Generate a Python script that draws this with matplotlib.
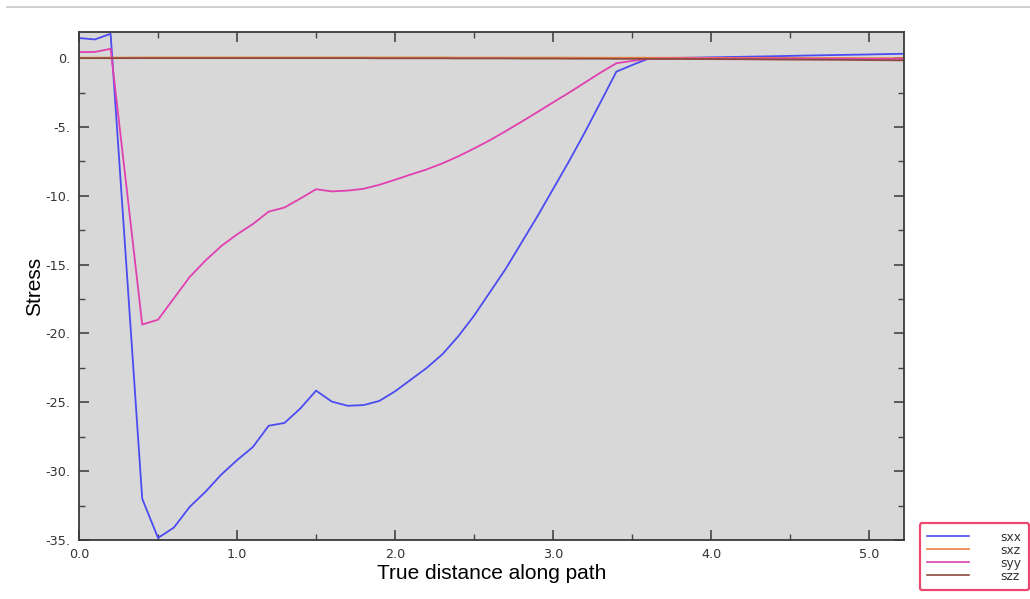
import matplotlib
matplotlib.use("Agg")
import matplotlib.pyplot as plt
from matplotlib.lines import Line2D
from matplotlib.ticker import MultipleLocator, FuncFormatter
import numpy as np

distance = [0.0, 0.1, 0.2, 0.3, 0.4, 0.5, 0.6, 0.7, 0.8, 0.9, 1.0, 1.1, 1.2, 1.3, 1.4, 1.5,
            1.6, 1.7, 1.8, 1.9, 2.0, 2.1, 2.2, 2.3, 2.4, 2.5, 2.6, 2.7, 2.8, 2.9, 3.0,
            3.1, 3.2, 3.3, 3.4, 3.5, 3.6, 3.7, 3.8, 4.0, 4.2, 4.4, 4.6, 4.8, 5.0, 5.22]

sxx = [1.46, 1.36, 1.77, -15.1, -32.0, -34.85, -34.1, -32.6, -31.5, -30.25, -29.2, -28.25,
       -26.7, -26.5, -25.45, -24.15, -24.95, -25.25, -25.2, -24.9, -24.2, -23.35, -22.5,
       -21.5, -20.2, -18.7, -17.0, -15.3, -13.4, -11.5, -9.5, -7.5, -5.4, -3.2, -0.98,
       -0.5, -0.05, 0.0, 0.02, 0.06, 0.1, 0.14, 0.19, 0.23, 0.27, 0.32]

sxz = [0.03, 0.03, 0.04, 0.04, 0.05, 0.05, 0.05, 0.05, 0.05, 0.05, 0.05, 0.05, 0.05, 0.05,
       0.05, 0.05, 0.05, 0.05, 0.05, 0.05, 0.05, 0.05, 0.05, 0.05, 0.04, 0.04, 0.04, 0.04,
       0.04, 0.04, 0.04, 0.04, 0.03, 0.03, 0.03, 0.03, 0.03, 0.03, 0.03, 0.02, 0.02, 0.02,
       0.01, 0.01, 0.0, 0.0]

syy = [0.44, 0.45, 0.68, -9.3, -19.35, -19.0, -17.45, -15.9, -14.7, -13.65, -12.8, -12.05,
       -11.15, -10.85, -10.2, -9.52, -9.68, -9.62, -9.49, -9.2, -8.83, -8.45, -8.08, -7.64,
       -7.13, -6.56, -5.96, -5.3, -4.62, -3.92, -3.21, -2.51, -1.78, -1.05, -0.37, -0.2,
       -0.05, -0.03, -0.02, -0.02, -0.03, -0.03, -0.04, -0.04, -0.05, -0.05]

szz = [0.0, 0.0, 0.0, 0.0, 0.0, 0.0, 0.0, 0.0, 0.0, 0.0, 0.0, 0.0, 0.0, 0.0, 0.0, 0.0,
       0.0, 0.0, 0.0, -0.01, -0.01, -0.01, -0.01, -0.01, -0.02, -0.02, -0.02, -0.02, -0.03,
       -0.03, -0.03, -0.04, -0.04, -0.04, -0.05, -0.05, -0.05, -0.06, -0.06, -0.07, -0.08,
       -0.1, -0.11, -0.12, -0.14, -0.16]

series_names = ["sxx", "sxz", "syy", "szz"]
series_colors = ["#4b4bf2", "#e8813f", "#e040b0", "#8e4a40"]

fig = plt.figure(figsize=(10.30, 5.99), dpi=100)
ax = fig.add_axes([79/1030, 1 - 540/599, (904 - 79)/1030, (540 - 32)/599])
ax.set_facecolor("#d8d8d8")

for name, vals, col in zip(series_names, [sxx, sxz, syy, szz], series_colors):
    ax.plot(distance, vals, color=col, lw=1.3, label=name)

ax.set_xlim(0, 5.22)
ax.set_ylim(-35, 1.9)
ax.xaxis.set_major_locator(MultipleLocator(1.0))
ax.xaxis.set_minor_locator(MultipleLocator(0.5))
ax.yaxis.set_major_locator(MultipleLocator(5))
ax.yaxis.set_minor_locator(MultipleLocator(2.5))
ax.xaxis.set_major_formatter(FuncFormatter(lambda v, p: f"{v:.1f}"))
ax.yaxis.set_major_formatter(FuncFormatter(lambda v, p: f"{int(round(v))}."))
ax.tick_params(which="both", direction="in", top=True, right=True, color="#444444",
               labelsize=9.2, labelcolor="#333333")
ax.tick_params(which="major", length=7, width=1.2, pad=6)
ax.tick_params(which="minor", length=4, width=1.0)
for s in ax.spines.values():
    s.set_color("#3a3a3a")
    s.set_linewidth(1.3)

ax.set_xlabel("True distance along path", fontsize=15, family="Liberation Sans", labelpad=2)
ax.set_ylabel("Stress", fontsize=15, family="Liberation Sans", labelpad=1)

handles = [Line2D([0], [0], color=c, lw=1.2) for c in series_colors]
leg = fig.legend(handles, series_names, loc="lower left",
                 bbox_to_anchor=(920/1030, 1 - 590/599), fontsize=8.8,
                 frameon=True, fancybox=True, handlelength=3.4, handletextpad=2.6,
                 labelspacing=0.0, borderpad=0.6, borderaxespad=0)
leg.get_frame().set_edgecolor("#e8194a")
leg.get_frame().set_linewidth(1.6)
for t in leg.get_texts():
    t.set_color("#333333")

fig.add_artist(Line2D([7/1030, 1.0], [1 - 7/599, 1 - 7/599], color="#c8c8c8", lw=1.2))

fig.savefig("out.png", dpi=100)
